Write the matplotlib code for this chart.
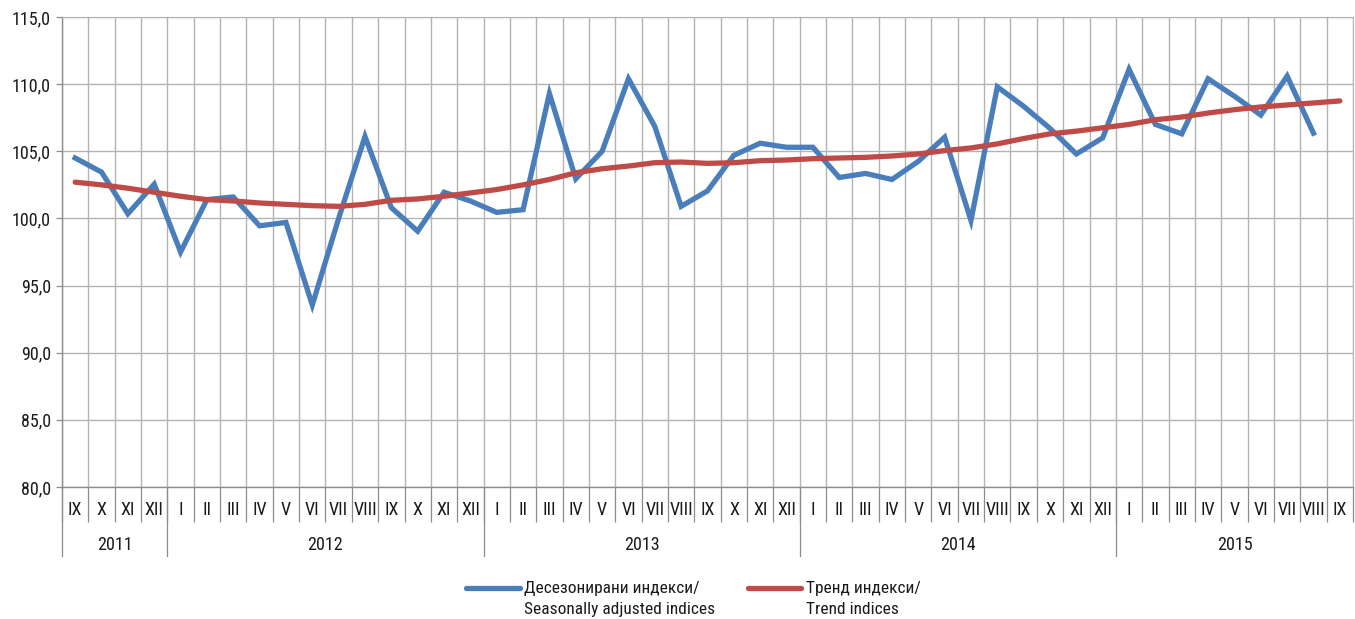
import matplotlib
matplotlib.use("Agg")
import matplotlib.pyplot as plt
from matplotlib.lines import Line2D
from matplotlib import font_manager

months = ["IX", "X", "XI", "XII",
          "I", "II", "III", "IV", "V", "VI", "VII", "VIII", "IX", "X", "XI", "XII",
          "I", "II", "III", "IV", "V", "VI", "VII", "VIII", "IX", "X", "XI", "XII",
          "I", "II", "III", "IV", "V", "VI", "VII", "VIII", "IX", "X", "XI", "XII",
          "I", "II", "III", "IV", "V", "VI", "VII", "VIII", "IX"]
years = ["2011", "2012", "2013", "2014", "2015"]
year_counts = [4, 12, 12, 12, 9]

seasonally_adjusted = [104.5, 103.45, 100.35, 102.55,
                       97.5, 101.4, 101.6, 99.45, 99.7, 93.55, 100.0, 106.1, 100.8, 99.05, 101.95, 101.3,
                       100.45, 100.65, 109.3, 102.95, 105.0, 110.4, 106.85, 100.9, 102.05, 104.7, 105.6, 105.3,
                       105.3, 103.05, 103.35, 102.9, 104.25, 106.05, 99.85, 109.8, 108.35, 106.7, 104.8, 106.0,
                       111.1, 107.0, 106.3, 110.4, 109.1, 107.7, 110.6, 106.35]
trend = [102.7, 102.5, 102.25, 101.95,
         101.65, 101.4, 101.3, 101.15, 101.05, 100.95, 100.9, 101.05, 101.35, 101.45, 101.65, 101.9,
         102.15, 102.5, 102.9, 103.4, 103.7, 103.9, 104.15, 104.2, 104.1, 104.15, 104.3, 104.35,
         104.45, 104.5, 104.55, 104.65, 104.8, 105.05, 105.25, 105.55, 105.95, 106.3, 106.5, 106.75,
         107.0, 107.35, 107.55, 107.85, 108.1, 108.3, 108.45, 108.6, 108.75]

label_sa = "Десезонирани индекси/\nSeasonally adjusted indices"
label_tr = "Тренд индекси/\nTrend indices"

names = {f.name for f in font_manager.fontManager.ttflist}
narrow = [f for f in ["Liberation Sans Narrow", "Roboto Condensed", "Open Sans Condensed"] if f in names]
fam = narrow + [f for f in ["Liberation Sans", "DejaVu Sans"] if f in names]
plt.rcParams["font.family"] = fam or ["DejaVu Sans"]
big = 13 if narrow else 12
small = 13 if narrow else 11.3
leg = 12.5 if narrow else 11.3

W, H = 1355, 619
fig = plt.figure(figsize=(W / 100, H / 100), dpi=100)
L, R, T, B = 62, 1353, 17, 487
ax = fig.add_axes([L / W, 1 - B / H, (R - L) / W, (B - T) / H])

blue = "#4A7EBB"
red = "#BE4B48"
grid = "#B3B3B3"
axc = "#8C8C8C"
txt = "#1a1a1a"

n = len(months)
x_sa = [i + 0.5 for i in range(len(seasonally_adjusted))]
x_tr = [i + 0.5 for i in range(len(trend))]
ax.plot(x_sa, seasonally_adjusted, color=blue, lw=3.8, solid_joinstyle="miter", zorder=3)
ax.plot(x_tr, trend, color=red, lw=3.8, solid_joinstyle="round", solid_capstyle="round", zorder=4)

ax.set_xlim(0, n)
ax.set_ylim(80, 115)
ax.set_yticks(range(80, 116, 5))
ax.set_yticklabels([f"{v},0" for v in range(80, 116, 5)], fontsize=big, color=txt)
ax.set_xticks(range(n + 1))
ax.set_xticklabels([])
ax.tick_params(axis="x", length=25.2, width=0.9, color=axc, direction="out")
ax.tick_params(axis="y", length=4, width=0.9, color=axc, pad=4)
ax.grid(True, color=grid, lw=1.0, zorder=0)
for s in ["top", "right"]:
    ax.spines[s].set_color(grid)
for s in ["left", "bottom"]:
    ax.spines[s].set_color(axc)
    ax.spines[s].set_linewidth(1.0)

def ya(py):
    return (B - py) / (B - T)

trans = ax.get_xaxis_transform()
for i, m in enumerate(months):
    ax.text(i + 0.5, ya(510), m, transform=trans, ha="center", va="center",
            fontsize=small, color=txt, clip_on=False)

start = 0
for y, c in zip(years, year_counts):
    ax.text(start + c / 2, ya(545), y, transform=trans, ha="center", va="center",
            fontsize=big, color=txt, clip_on=False)
    ax.add_line(Line2D([start, start], [0, ya(556)], transform=trans, color=axc,
                       lw=0.9, clip_on=False))
    start += c

# legend
def fx(px):
    return px / W

def fy(py):
    return 1 - py / H

for x0, x1, tx, col, lab in [(466, 520, 524, blue, label_sa), (748, 801, 806, red, label_tr)]:
    fig.add_artist(Line2D([fx(x0), fx(x1)], [fy(588), fy(588)], color=col, lw=3.8,
                          solid_capstyle="round", transform=fig.transFigure))
    fig.text(fx(tx), fy(599), lab, ha="left", va="center", fontsize=leg,
             color=txt, linespacing=1.55)

fig.savefig("out.png", dpi=100)
